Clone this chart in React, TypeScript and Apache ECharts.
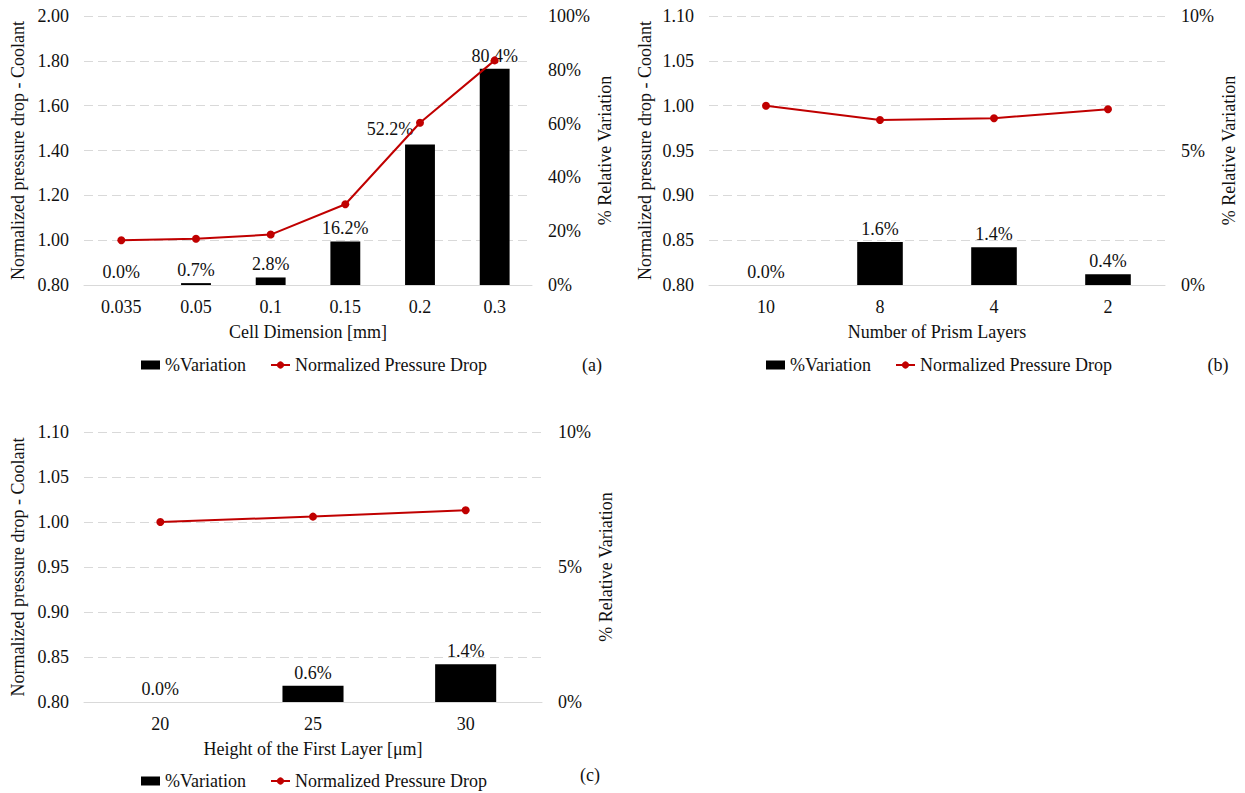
import React, { useEffect, useRef } from "react";
import * as echarts from "echarts";

// Chart (a)
const catA = ["0.035", "0.05", "0.1", "0.15", "0.2", "0.3"];
const varA = [0.0, 0.7, 2.8, 16.2, 52.2, 80.4];
const dropA = [1.0, 1.006, 1.025, 1.16, 1.524, 1.802];
// Chart (b)
const catB = ["10", "8", "4", "2"];
const varB = [0.0, 1.6, 1.4, 0.4];
const dropB = [1.0, 0.984, 0.986, 0.996];
// Chart (c)
const catC = ["20", "25", "30"];
const varC = [0.0, 0.6, 1.4];
const dropC = [1.0, 1.006, 1.013];

const FONT = "'Liberation Serif', 'Times New Roman', serif";
const TXT = "#111111";
const RED = "#C00000";
const GRIDC = "#D9D9D9";
const FS = 18;

const BAR_NAME = "%Variation";
const LINE_NAME = "Normalized Pressure Drop";

export default function App() {
  const ref = useRef<HTMLDivElement>(null);
  useEffect(() => {
    document.body.style.margin = "0";
    if (!ref.current) return;
    const chart = echarts.init(ref.current, undefined, { renderer: "svg" });

    const grids = [
      { left: 84, top: 16, width: 448, height: 269 },
      { left: 709, top: 16, width: 456, height: 269 },
      { left: 84, top: 432, width: 458, height: 270 },
    ];
    const cats = [catA, catB, catC];
    const xNames = ["Cell Dimension [mm]", "Number of Prism Layers", "Height of the First Layer [μm]"];
    const leftAxes = [
      { min: 0.8, max: 2.0, interval: 0.2 },
      { min: 0.8, max: 1.1, interval: 0.05 },
      { min: 0.8, max: 1.1, interval: 0.05 },
    ];
    const rightAxes = [
      { min: 0, max: 100, interval: 20 },
      { min: 0, max: 10, interval: 5 },
      { min: 0, max: 10, interval: 5 },
    ];
    const leftGaps = [57, 55, 57];
    const rightGaps = [64, 55, 55];
    const bars = [
      varA.map((v, i) => (i === 4 ? { value: v, label: { offset: [-30, -3] } } : v)),
      varB,
      varC,
    ];
    const lines = [dropA, dropB, dropC];

    const xAxis: any[] = [];
    const yAxis: any[] = [];
    const series: any[] = [];
    grids.forEach((g, i) => {
      xAxis.push({
        type: "category",
        gridIndex: i,
        data: cats[i],
        name: xNames[i],
        nameLocation: "middle",
        nameGap: 38,
        nameTextStyle: { fontFamily: FONT, fontSize: FS, color: TXT, verticalAlign: "top" },
        axisLine: { show: true, lineStyle: { color: GRIDC, width: 1 } },
        axisTick: { show: false },
        axisLabel: { fontFamily: FONT, fontSize: FS, color: TXT, margin: 13 },
      });
      yAxis.push({
        type: "value",
        gridIndex: i,
        position: "left",
        min: leftAxes[i].min,
        max: leftAxes[i].max,
        interval: leftAxes[i].interval,
        name: "Normalized pressure drop - Coolant",
        nameLocation: "middle",
        nameGap: leftGaps[i],
        nameTextStyle: { fontFamily: FONT, fontSize: FS, color: TXT },
        axisLine: { show: false },
        axisTick: { show: false },
        axisLabel: {
          fontFamily: FONT,
          fontSize: FS,
          color: TXT,
          margin: 15,
          formatter: (v: number) => v.toFixed(2),
        },
        splitLine: { show: true, lineStyle: { color: GRIDC, type: [9, 5], width: 1 } },
      });
      yAxis.push({
        type: "value",
        gridIndex: i,
        position: "right",
        min: rightAxes[i].min,
        max: rightAxes[i].max,
        interval: rightAxes[i].interval,
        name: "% Relative Variation",
        nameLocation: "middle",
        nameGap: rightGaps[i],
        nameTextStyle: { fontFamily: FONT, fontSize: FS, color: TXT },
        axisLine: { show: false },
        axisTick: { show: false },
        axisLabel: {
          fontFamily: FONT,
          fontSize: FS,
          color: TXT,
          margin: 16,
          formatter: (v: number) => v + "%",
        },
        splitLine: { show: false },
      });
      series.push({
        type: "bar",
        name: BAR_NAME,
        xAxisIndex: i,
        yAxisIndex: i * 2 + 1,
        data: bars[i],
        barCategoryGap: "60%",
        itemStyle: { color: "#000000" },
        label: {
          show: true,
          position: "top",
          distance: 4,
          fontFamily: FONT,
          fontSize: FS,
          color: TXT,
          formatter: (p: any) => Number(p.value).toFixed(1) + "%",
        },
        z: 2,
      });
      series.push({
        type: "line",
        name: LINE_NAME,
        xAxisIndex: i,
        yAxisIndex: i * 2,
        data: lines[i],
        symbol: "circle",
        symbolSize: 8,
        lineStyle: { color: RED, width: 2 },
        itemStyle: { color: RED },
        z: 3,
      });
    });

    const legendPos = [
      { left: 141, top: 356 },
      { left: 766, top: 356 },
      { left: 141, top: 772 },
    ];
    const legend = legendPos.map((p) => ({
      left: p.left,
      top: p.top,
      padding: 0,
      itemWidth: 19,
      itemHeight: 9,
      itemGap: 24,
      textStyle: { fontFamily: FONT, fontSize: FS, color: TXT },
      data: [{ name: BAR_NAME, icon: "rect" }, { name: LINE_NAME }],
    }));

    const tags = [
      { t: "(a)", x: 592, y: 365 },
      { t: "(b)", x: 1218, y: 365 },
      { t: "(c)", x: 590, y: 775 },
    ];

    chart.setOption({
      animation: false,
      backgroundColor: "#ffffff",
      grid: grids,
      xAxis,
      yAxis,
      series,
      legend,
      graphic: tags.map((g) => ({
        type: "text",
        x: g.x,
        y: g.y,
        style: {
          text: g.t,
          fontFamily: FONT,
          fontSize: FS,
          fill: TXT,
          textAlign: "center",
          textVerticalAlign: "middle",
        },
      })),
    });
    return () => chart.dispose();
  }, []);
  return <div ref={ref} style={{ width: 1245, height: 793 }} />;
}
